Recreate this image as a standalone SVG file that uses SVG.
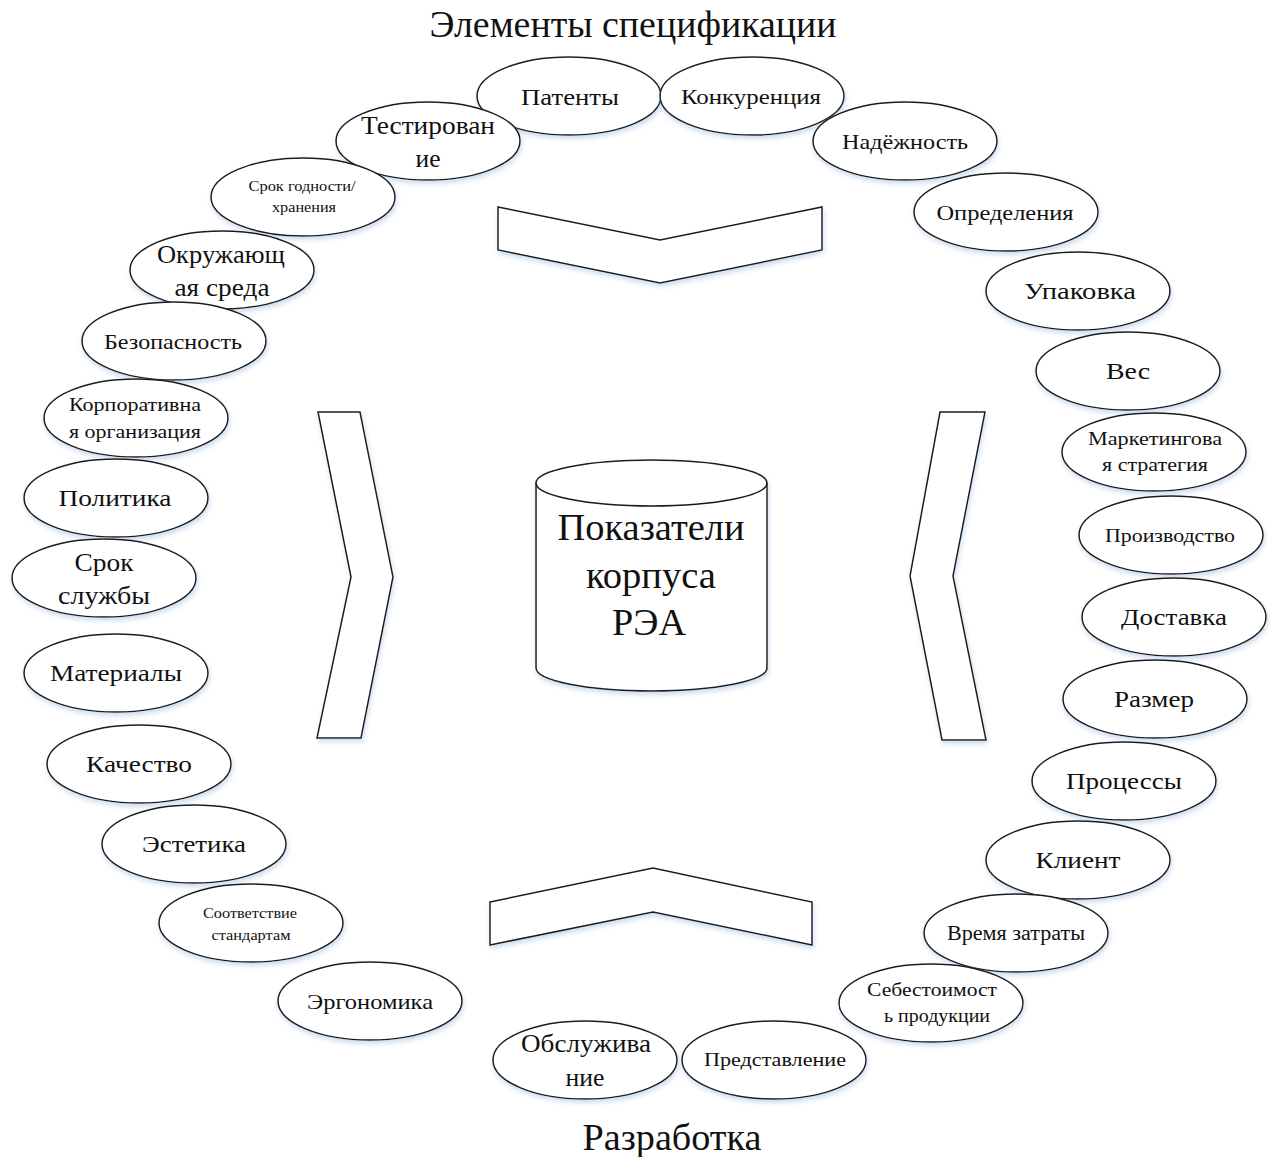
<svg xmlns="http://www.w3.org/2000/svg" width="1275" height="1157" viewBox="0 0 1275 1157">
  <defs>
    <filter id="soft" x="-20%" y="-20%" width="140%" height="150%">
      <feDropShadow dx="1" dy="3" stdDeviation="2.5" flood-color="#8fb0d8" flood-opacity="0.45"/>
    </filter>
  </defs>
  <style>
    .node ellipse { fill: #ffffff; stroke: #1a1a1a; stroke-width: 1.5; filter: url(#soft); }
    .shape { fill: #ffffff; stroke: #1a1a1a; stroke-width: 1.5; stroke-linejoin: miter; filter: url(#soft); }
    text { font-family: "Liberation Serif", "Times New Roman", serif; fill: #111111; text-anchor: middle; }
    .t26 { font-size: 26px; }
    .t24 { font-size: 24px; }
    .t22 { font-size: 22px; }
    .t20 { font-size: 20px; }
    .t19 { font-size: 19px; }
    .t18 { font-size: 18px; }
    .t14 { font-size: 14px; }
    .title { font-size: 38px; }
    .core { font-size: 38px; }
  </style>
  <rect width="1275" height="1157" fill="#ffffff"/>

  <text class="title" x="633" y="37" textLength="407" lengthAdjust="spacingAndGlyphs">Элементы спецификации</text>
  <text class="title" x="672" y="1150" textLength="179" lengthAdjust="spacingAndGlyphs">Разработка</text>

  <!-- chevrons pointing toward the centre -->
  <g id="arrows">
    <polygon id="arrow-top" class="shape" points="498,207 660,240 822,207 822,250 660,283 498,250"/>
    <polygon id="arrow-bottom" class="shape" points="490,902 653,868 812,902 812,945 653,912 490,945"/>
    <polygon id="arrow-left" class="shape" points="318,412 360,412 393,577 361,738 317,738 351,577"/>
    <polygon id="arrow-right" class="shape" points="940,412 985,412 953,576 986,740 942,740 910,576"/>
  </g>

  <!-- central cylinder -->
  <g id="core">
    <path class="shape" d="M536,483 A115.5,23 0 0 1 767,483 L767,668 A115.5,23 0 0 1 536,668 Z"/>
    <path d="M536,483 A115.5,23 0 0 0 767,483" fill="none" stroke="#1a1a1a" stroke-width="1.5"/>
    <text class="core" x="651" y="540" textLength="187" lengthAdjust="spacingAndGlyphs">Показатели</text>
    <text class="core" x="651" y="588" textLength="130" lengthAdjust="spacingAndGlyphs">корпуса</text>
    <text class="core" x="649" y="635" textLength="74" lengthAdjust="spacingAndGlyphs">РЭА</text>
  </g>

  <!-- specification elements -->
  <g id="n-patenty" class="node"><ellipse cx="569" cy="96" rx="92" ry="39"/><text class="t24" x="570" y="105" textLength="98" lengthAdjust="spacingAndGlyphs">Патенты</text></g>
  <g id="n-konkurenciya" class="node"><ellipse cx="752" cy="96" rx="92" ry="39"/><text class="t22" x="751" y="104" textLength="140" lengthAdjust="spacingAndGlyphs">Конкуренция</text></g>
  <g id="n-testirovanie" class="node"><ellipse cx="428" cy="141" rx="92" ry="39"/><text class="t26" x="428" y="134" textLength="134" lengthAdjust="spacingAndGlyphs">Тестирован</text><text class="t26" x="428" y="167" textLength="25" lengthAdjust="spacingAndGlyphs">ие</text></g>
  <g id="n-nadezhnost" class="node"><ellipse cx="905" cy="141" rx="92" ry="39"/><text class="t22" x="905" y="149" textLength="126" lengthAdjust="spacingAndGlyphs">Надёжность</text></g>
  <g id="n-srok-godnosti" class="node"><ellipse cx="303" cy="197" rx="92" ry="39"/><text class="t14" x="302" y="191" textLength="107" lengthAdjust="spacingAndGlyphs">Срок годности/</text><text class="t14" x="304" y="212" textLength="64" lengthAdjust="spacingAndGlyphs">хранения</text></g>
  <g id="n-opredeleniya" class="node"><ellipse cx="1006" cy="212" rx="92" ry="39"/><text class="t22" x="1005" y="220" textLength="137" lengthAdjust="spacingAndGlyphs">Определения</text></g>
  <g id="n-okruzhayushaya" class="node"><ellipse cx="222" cy="270" rx="92" ry="39"/><text class="t26" x="221" y="263" textLength="128" lengthAdjust="spacingAndGlyphs">Окружающ</text><text class="t26" x="222" y="296" textLength="95" lengthAdjust="spacingAndGlyphs">ая среда</text></g>
  <g id="n-upakovka" class="node"><ellipse cx="1078" cy="291" rx="92" ry="39"/><text class="t24" x="1080" y="299" textLength="112" lengthAdjust="spacingAndGlyphs">Упаковка</text></g>
  <g id="n-bezopasnost" class="node"><ellipse cx="174" cy="341" rx="92" ry="39"/><text class="t22" x="173" y="349" textLength="138" lengthAdjust="spacingAndGlyphs">Безопасность</text></g>
  <g id="n-ves" class="node"><ellipse cx="1128" cy="371" rx="92" ry="39"/><text class="t24" x="1128" y="379" textLength="44" lengthAdjust="spacingAndGlyphs">Вес</text></g>
  <g id="n-korporativnaya" class="node"><ellipse cx="136" cy="418" rx="92" ry="39"/><text class="t19" x="135" y="411" textLength="132" lengthAdjust="spacingAndGlyphs">Корпоративна</text><text class="t19" x="135" y="438" textLength="132" lengthAdjust="spacingAndGlyphs">я организация</text></g>
  <g id="n-marketing" class="node"><ellipse cx="1154" cy="452" rx="92" ry="39"/><text class="t19" x="1155" y="445" textLength="134" lengthAdjust="spacingAndGlyphs">Маркетингова</text><text class="t19" x="1155" y="471" textLength="106" lengthAdjust="spacingAndGlyphs">я стратегия</text></g>
  <g id="n-politika" class="node"><ellipse cx="116" cy="498" rx="92" ry="39"/><text class="t24" x="115" y="506" textLength="113" lengthAdjust="spacingAndGlyphs">Политика</text></g>
  <g id="n-proizvodstvo" class="node"><ellipse cx="1171" cy="535" rx="92" ry="39"/><text class="t18" x="1170" y="542" textLength="130" lengthAdjust="spacingAndGlyphs">Производство</text></g>
  <g id="n-srok-sluzhby" class="node"><ellipse cx="104" cy="578" rx="92" ry="39"/><text class="t26" x="104" y="571" textLength="59" lengthAdjust="spacingAndGlyphs">Срок</text><text class="t26" x="104" y="604" textLength="92" lengthAdjust="spacingAndGlyphs">службы</text></g>
  <g id="n-dostavka" class="node"><ellipse cx="1174" cy="617" rx="92" ry="39"/><text class="t24" x="1174" y="625" textLength="106" lengthAdjust="spacingAndGlyphs">Доставка</text></g>
  <g id="n-materialy" class="node"><ellipse cx="116" cy="673" rx="92" ry="39"/><text class="t24" x="116" y="681" textLength="132" lengthAdjust="spacingAndGlyphs">Материалы</text></g>
  <g id="n-razmer" class="node"><ellipse cx="1155" cy="699" rx="92" ry="39"/><text class="t24" x="1154" y="707" textLength="80" lengthAdjust="spacingAndGlyphs">Размер</text></g>
  <g id="n-kachestvo" class="node"><ellipse cx="139" cy="764" rx="92" ry="39"/><text class="t24" x="139" y="772" textLength="106" lengthAdjust="spacingAndGlyphs">Качество</text></g>
  <g id="n-processy" class="node"><ellipse cx="1124" cy="781" rx="92" ry="39"/><text class="t24" x="1124" y="789" textLength="116" lengthAdjust="spacingAndGlyphs">Процессы</text></g>
  <g id="n-estetika" class="node"><ellipse cx="194" cy="844" rx="92" ry="39"/><text class="t24" x="194" y="852" textLength="104" lengthAdjust="spacingAndGlyphs">Эстетика</text></g>
  <g id="n-klient" class="node"><ellipse cx="1078" cy="860" rx="92" ry="39"/><text class="t24" x="1078" y="868" textLength="85" lengthAdjust="spacingAndGlyphs">Клиент</text></g>
  <g id="n-sootvetstvie" class="node"><ellipse cx="251" cy="923" rx="92" ry="39"/><text class="t14" x="250" y="918" textLength="94" lengthAdjust="spacingAndGlyphs">Соответствие</text><text class="t14" x="251" y="940" textLength="79" lengthAdjust="spacingAndGlyphs">стандартам</text></g>
  <g id="n-vremya" class="node"><ellipse cx="1016" cy="933" rx="92" ry="39"/><text class="t20" x="1016" y="940" textLength="138" lengthAdjust="spacingAndGlyphs">Время затраты</text></g>
  <g id="n-ergonomika" class="node"><ellipse cx="370" cy="1001" rx="92" ry="39"/><text class="t22" x="370" y="1009" textLength="126" lengthAdjust="spacingAndGlyphs">Эргономика</text></g>
  <g id="n-sebestoimost" class="node"><ellipse cx="931" cy="1003" rx="92" ry="39"/><text class="t19" x="932" y="996" textLength="130" lengthAdjust="spacingAndGlyphs">Себестоимост</text><text class="t19" x="937" y="1022" textLength="106" lengthAdjust="spacingAndGlyphs">ь продукции</text></g>
  <g id="n-obsluzhivanie" class="node"><ellipse cx="585" cy="1060" rx="92" ry="39"/><text class="t26" x="586" y="1052" textLength="130" lengthAdjust="spacingAndGlyphs">Обслужива</text><text class="t26" x="585" y="1086" textLength="39" lengthAdjust="spacingAndGlyphs">ние</text></g>
  <g id="n-predstavlenie" class="node"><ellipse cx="774" cy="1060" rx="92" ry="39"/><text class="t19" x="775" y="1066" textLength="142" lengthAdjust="spacingAndGlyphs">Представление</text></g>
</svg>
